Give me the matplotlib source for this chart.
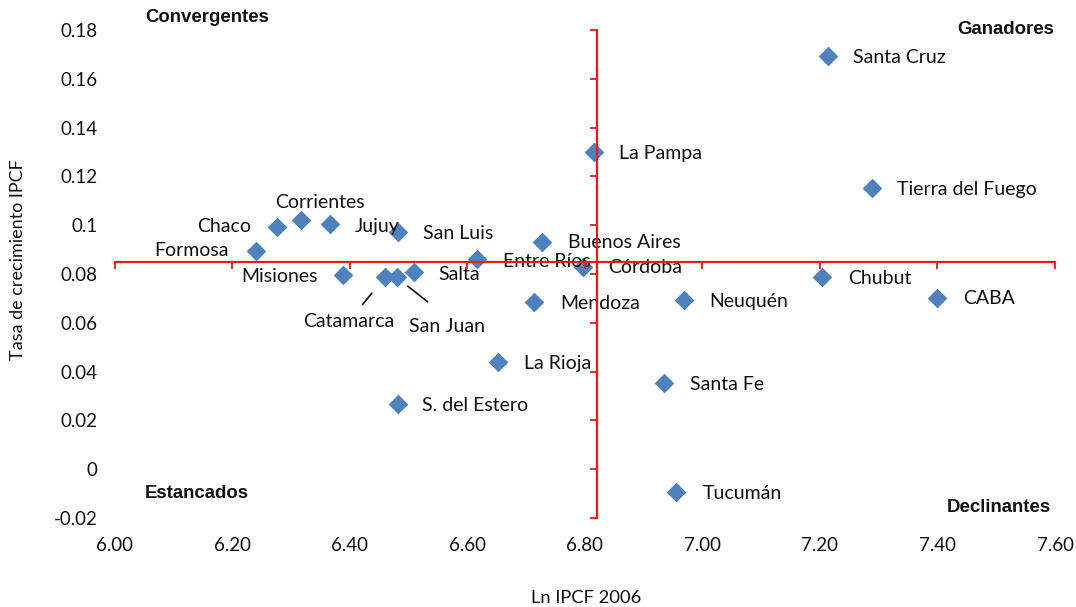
import matplotlib
matplotlib.use("Agg")
import matplotlib.pyplot as plt

plt.rcParams['font.family'] = ['Lato', 'DejaVu Sans']

provinces = ["Santa Cruz", "Tierra del Fuego", "La Pampa", "Chubut", "CABA", "Neuquén",
             "Santa Fe", "Tucumán", "Córdoba", "Buenos Aires", "Entre Ríos", "Mendoza",
             "La Rioja", "S. del Estero", "San Luis", "Formosa", "Chaco", "Corrientes",
             "Jujuy", "Misiones", "Catamarca", "San Juan", "Salta"]
ln_ipcf_2006 = [7.214, 7.288, 6.815, 7.204, 7.400, 6.968,
                6.934, 6.956, 6.797, 6.728, 6.617, 6.714,
                6.653, 6.483, 6.483, 6.240, 6.277, 6.317,
                6.366, 6.388, 6.460, 6.480, 6.509]
growth_ipcf = [0.1693, 0.1152, 0.1299, 0.0787, 0.0701, 0.0693,
               0.0352, -0.0094, 0.0828, 0.0930, 0.0861, 0.0684,
               0.0439, 0.0266, 0.0971, 0.0895, 0.0993, 0.1023,
               0.1003, 0.0795, 0.0786, 0.0786, 0.0809]
cross_x = 6.821   # mean Ln IPCF 2006
cross_y = 0.0848  # mean growth

x_ticks = [6.00, 6.20, 6.40, 6.60, 6.80, 7.00, 7.20, 7.40, 7.60]
y_ticks = [-0.02, 0, 0.02, 0.04, 0.06, 0.08, 0.1, 0.12, 0.14, 0.16, 0.18]
y_tick_labels = ["-0.02", "0", "0.02", "0.04", "0.06", "0.08", "0.1", "0.12", "0.14", "0.16", "0.18"]

# label offsets in pixels (dx, dy, ha)
label_pos = {
    "Santa Cruz": (25, -1, 'left'), "Tierra del Fuego": (25, -1, 'left'),
    "La Pampa": (25, -1, 'left'), "Chubut": (26, -1, 'left'), "CABA": (26, 0, 'left'),
    "Neuquén": (26, -1, 'left'), "Santa Fe": (26, -1, 'left'), "Tucumán": (26, -1, 'left'),
    "Córdoba": (25, 0, 'left'), "Buenos Aires": (26, 0, 'left'), "Entre Ríos": (26, -2, 'left'),
    "Mendoza": (26, -1, 'left'), "La Rioja": (26, -1, 'left'), "S. del Estero": (24, -1, 'left'),
    "San Luis": (25, -1, 'left'), "Formosa": (-27, 0, 'right'), "Chaco": (-26, 0, 'right'),
    "Corrientes": (19, 17, 'center'), "Jujuy": (25, -2, 'left'), "Misiones": (-25, -1, 'right'),
    "Catamarca": (-36, -44, 'center'), "San Juan": (50, -49, 'center'), "Salta": (25, -3, 'left'),
}
# leader lines: far end offset (px) and shrink near point (px)
leaders = {"Catamarca": (-22.3, -27, 20.4), "San Juan": (31, -24.4, 14.2)}

W, H = 1076, 607
fig = plt.figure(figsize=(W / 100, H / 100), dpi=100)
pos = [114.5 / W, 1 - 518 / H, (1055 - 114.5) / W, 488 / H]
ax = fig.add_axes(pos)
ax.set_xlim(6.0, 7.6)
ax.set_ylim(-0.02, 0.18)
for s in ax.spines.values():
    s.set_visible(False)
ax.set_xticks(x_ticks)
ax.set_xticklabels([f"{v:.2f}" for v in x_ticks])
ax.set_yticks(y_ticks)
ax.set_yticklabels(y_tick_labels)
ax.tick_params(axis='x', length=0, pad=14.0, labelsize=13.5, labelcolor='#111111')
ax.tick_params(axis='y', length=0, pad=12.3, labelsize=13.5, labelcolor='#111111')

ax.scatter(ln_ipcf_2006, growth_ipcf, marker='D', s=100, color='#4F81BD', zorder=3, linewidths=0)

for name, x, y in zip(provinces, ln_ipcf_2006, growth_ipcf):
    dx, dy, ha = label_pos[name]
    ax.annotate(name, (x, y), xytext=(dx, dy), textcoords='offset pixels',
                ha=ha, va='center', fontsize=14, color='#111111', zorder=4)
    if name in leaders:
        lx, ly, shr = leaders[name]
        ax.annotate('', (x, y), xytext=(lx, ly), textcoords='offset pixels',
                    arrowprops=dict(arrowstyle='-', color='#111111', lw=1.2,
                                    shrinkA=0, shrinkB=shr * 0.72))

# crossing axes (red)
ax2 = fig.add_axes(pos, sharex=ax, sharey=ax, facecolor='none')
ax2.spines['top'].set_visible(False)
ax2.spines['right'].set_visible(False)
ax2.spines['bottom'].set_position(('data', cross_y))
ax2.spines['left'].set_position(('data', cross_x))
for k in ('bottom', 'left'):
    ax2.spines[k].set_color('#F01818')
    ax2.spines[k].set_linewidth(1.6)
ax2.tick_params(axis='both', direction='out', length=5, width=1.3, color='#F01818',
                labelbottom=False, labelleft=False)

bold = dict(family=['Liberation Sans', 'DejaVu Sans'], fontweight='bold', fontsize=13.4, color='#111111')
fig.text(145 / W, 1 - 18 / H, "Convergentes", ha='left', va='center', **bold)
fig.text(1054 / W, 1 - 29 / H, "Ganadores", ha='right', va='center', **bold)
fig.text(145 / W, 1 - 494 / H, "Estancados", ha='left', va='center', **bold)
fig.text(1051 / W, 1 - 507 / H, "Declinantes", ha='right', va='center', **bold)

fig.text(586 / W, 1 - 598 / H, "Ln IPCF 2006", ha='center', va='center', fontsize=13.2, color='#111111')
fig.text(18 / W, 1 - 260 / H, "Tasa de crecimiento IPCF", ha='center', va='center',
         rotation=90, fontsize=13, color='#111111')

fig.savefig("out.png", dpi=100)
